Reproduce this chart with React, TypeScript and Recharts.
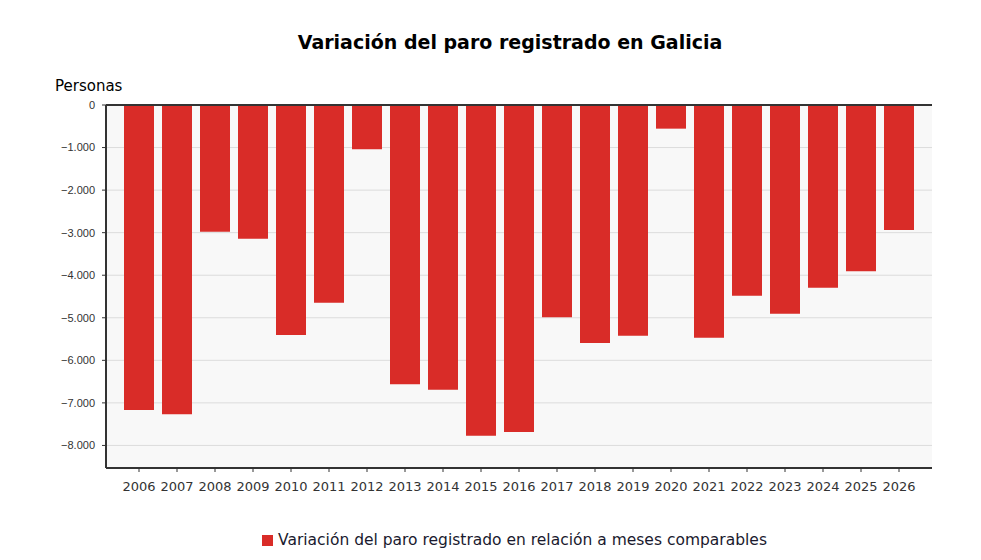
import { BarChart, Bar, XAxis, YAxis, CartesianGrid, ReferenceLine } from "recharts"

const years = [
  "2006", "2007", "2008", "2009", "2010", "2011", "2012", "2013", "2014", "2015", "2016",
  "2017", "2018", "2019", "2020", "2021", "2022", "2023", "2024", "2025", "2026"
]

const variation = [
  -7166, -7265, -2976, -3141, -5404, -4645, -1042, -6563, -6689, -7770, -7683,
  -4989, -5592, -5420, -556, -5467, -4480, -4903, -4292, -3908, -2937
]

const yTicks = [0, -1000, -2000, -3000, -4000, -5000, -6000, -7000, -8000]

const title = "Variación del paro registrado en Galicia"
const yLabel = "Personas"
const seriesName = "Variación del paro registrado en relación a meses comparables"

const data = years.map((year, i) => ({ year, value: variation[i] }))

const red = "#d92c28"
const font = "'DejaVu Sans', Verdana, sans-serif"

function formatTick(v: number) {
  const s = Math.abs(v).toLocaleString("de-DE")
  return v < 0 ? "\u2212" + s : s
}

export default function App() {
  return (
    <div style={{ position: "absolute", left: 0, top: 0, width: 981, height: 560, background: "#fff" }}>
      <div
        style={{
          position: "absolute", left: 0, top: 31, width: 1020, textAlign: "center",
          fontFamily: font, fontWeight: "bold", fontSize: 19, color: "#000"
        }}
      >
        {title}
      </div>
      <div style={{ position: "absolute", left: 55, top: 77, fontFamily: font, fontSize: 15, color: "#000" }}>
        {yLabel}
      </div>

      <BarChart
        width={981}
        height={560}
        data={data}
        margin={{ top: 105, right: 49, left: 0, bottom: 62 }}
      >
        <CartesianGrid vertical={false} stroke="#dcdcdc" fill="#f8f8f8" />
        <XAxis
          dataKey="year"
          height={30}
          padding={{ left: 14, right: 14 }}
          axisLine={{ stroke: "#333", strokeWidth: 2 }}
          tickLine={{ stroke: "#333" }}
          tickSize={4}
          tickMargin={10}
          tick={{ fill: "#333", fontSize: 13, fontFamily: font }}
          interval={0}
        />
        <YAxis
          width={106}
          domain={[-8530, 0]}
          ticks={yTicks}
          tickFormatter={formatTick}
          axisLine={{ stroke: "#333", strokeWidth: 2 }}
          tickLine={{ stroke: "#333" }}
          tickSize={4}
          tickMargin={7}
          tick={{ fill: "#333", fontSize: 11, fontFamily: "'Liberation Sans', Arial, sans-serif" }}
          allowDataOverflow
        />
        <ReferenceLine y={0} stroke="#333" strokeWidth={2} />
        <Bar dataKey="value" fill={red} barSize={30} isAnimationActive={false} />
      </BarChart>

      <div
        style={{
          position: "absolute", left: 262, top: 531, display: "flex", alignItems: "center",
          fontFamily: font, fontSize: 15.5, color: "#1a1a2e"
        }}
      >
        <span style={{ display: "inline-block", width: 11, height: 11, background: red, marginRight: 5 }} />
        {seriesName}
      </div>
    </div>
  )
}
